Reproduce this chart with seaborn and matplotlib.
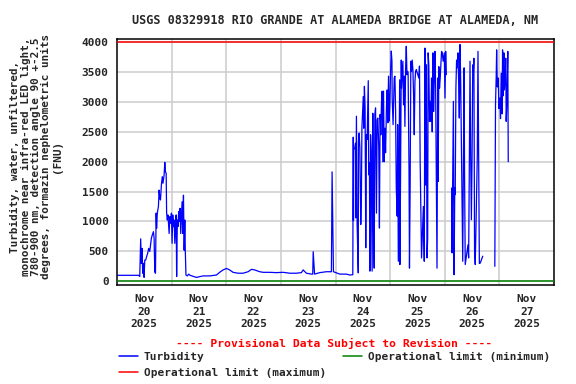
import numpy as np
import pandas as pd
import matplotlib
matplotlib.use("Agg")
import matplotlib.pyplot as plt
import seaborn as sns
from matplotlib.lines import Line2D

# ---------------- data (hours since 2025-11-20 00:00, turbidity FNU) ----------------
seg1_hours = [0.0, 9.5, 10.0, 10.4, 10.7, 11.0, 11.3, 11.6, 11.9, 12.2, 12.6, 13.1, 13.5, 13.9,
              14.4, 14.8, 15.1, 15.5, 16.0, 16.3, 16.6, 16.9, 17.2, 17.4, 17.7, 18.2, 18.5, 18.8,
              19.1, 19.5, 19.9, 20.2, 20.7, 21.0, 21.3, 21.6, 21.8, 22.1, 22.4, 22.9, 23.2, 23.6,
              23.9, 24.2, 24.5, 24.8, 25.1, 25.4, 25.7, 26.0, 26.2, 26.5, 26.8, 27.1, 27.4, 27.7,
              28.0, 28.3, 28.6, 28.9, 29.2, 29.5, 29.8, 30.0, 30.3, 30.9, 31.5, 32.1, 34.9, 37.8,
              40.8, 43.7, 45.1, 46.6, 48.1, 49.5, 51.0, 53.2, 55.4, 57.6, 59.1, 60.5, 62.7, 64.2,
              67.1, 70.0, 73.0, 75.9, 78.8, 81.0, 81.8, 83.2, 85.4, 86.0, 86.2, 86.5, 86.8, 89.1,
              92.0, 94.2, 94.5, 94.8, 95.1, 97.9, 100.8, 102.3, 103.6, 103.8, 103.9, 104.0, 104.5,
              104.8, 104.9, 105.2, 105.5, 106.0, 106.1, 106.4, 106.7, 107.1, 107.4, 107.6, 108.2,
              108.4, 108.7, 109.0, 109.3, 109.6, 109.9, 110.4, 110.6, 110.9, 111.1, 111.4, 111.7,
              112.1, 112.4, 112.7, 113.0, 113.3, 113.6, 114.0, 114.3, 114.6, 115.0, 115.3, 115.6,
              115.9, 116.2, 116.5, 116.8, 117.1, 117.4, 117.7, 118.0, 118.4, 118.7, 119.0, 119.3,
              119.6, 119.9, 120.2, 120.5, 120.8, 120.9, 121.3, 121.8, 122.1, 122.4, 122.7, 123.1,
              123.3, 123.6, 123.9, 124.2, 124.3, 124.6, 124.9, 125.0, 125.3, 125.6, 125.9, 126.2,
              126.5, 126.8, 127.1, 127.4, 127.7, 127.9, 128.3, 128.5, 128.8, 129.1, 129.4, 129.7,
              130.0, 130.3, 130.6, 130.9, 131.2, 131.5, 132.6, 132.9, 133.2, 133.8, 134.6, 135.0,
              135.3, 135.6, 135.9, 136.2, 136.5, 136.7, 137.0, 137.3, 137.6, 137.9, 138.2, 138.5,
              138.8, 139.1, 139.4, 139.7, 140.0, 140.3, 140.6, 140.9, 141.1, 141.4, 141.7, 142.0,
              142.6, 142.9, 143.3, 143.8, 144.1, 144.4, 144.7]
seg1_fnu = [100, 100, 80, 710, 300, 550, 135, 300, 65, 355, 355, 425, 470, 550,
            500, 635, 720, 775, 830, 720, 160, 135, 1140, 885, 1140, 1250, 1525, 1390,
            1360, 1610, 1750, 1640, 1780, 1990, 1830, 1805, 1140, 1025, 1110, 800, 1080, 970,
            1140, 635, 1110, 915, 1025, 635, 970, 1110, 80, 1025, 915, 1165, 1000, 1220,
            800, 1080, 1330, 800, 1440, 520, 1025, 520, 105, 90, 120, 100, 65, 90,
            90, 105, 150, 190, 215, 190, 150, 135, 135, 160, 200, 190, 160, 150,
            150, 145, 150, 135, 135, 145, 190, 135, 120, 120, 495, 300, 120, 145,
            160, 160, 1830, 965, 160, 120, 120, 105, 110, 2410, 1015, 2200, 2230,
            2310, 1060, 2760, 950, 140, 2340, 2480, 2230, 950, 1480, 2560, 3090,
            2560, 3260, 2900, 560, 2450, 2370, 3355, 1780, 1980, 170, 2450, 2170,
            170, 2810, 920, 220, 2790, 2900, 1140, 2700, 2730, 2260, 890, 2790,
            2450, 2980, 3180, 2000, 3180, 2000, 2560, 2150, 2925, 3200, 2650, 3430,
            2680, 2980, 3510, 3850, 3680, 3065, 2620, 3400, 3430, 2870, 1560, 1090,
            2620, 335, 1950, 3370, 280, 1840, 3700, 3230, 3455, 3680, 2950, 3430,
            2590, 3570, 3930, 3455, 3510, 3480, 1870, 220, 1620, 3680, 3510, 3700,
            3540, 3120, 2450, 3340, 3510, 3540, 3400, 3600, 2000, 390, 1250, 335,
            3900, 1610, 3620, 390, 720, 3820, 3620, 2675, 3010, 2675, 3400, 2500,
            3820, 2840, 3400, 3845, 3230, 1780, 220, 3400, 1670, 3590, 3230, 3400,
            3845, 3820, 3680, 3820, 3065, 3845, 3455]

seg2_hours = [147.0, 147.2, 147.8, 148.1, 148.4, 148.6, 148.9, 149.2, 149.5, 149.8, 150.1,
              150.4, 150.7, 151.0, 151.9, 152.2, 152.5, 152.7, 153.0, 154.2, 154.5, 154.8,
              155.1, 155.4, 155.7, 156.0, 156.3, 156.6, 156.8, 157.1, 157.4, 158.3, 158.6,
              158.9, 159.2, 159.5, 159.9, 160.4, 160.7]
seg2_fnu = [1560, 475, 3010, 110, 1560, 1450, 3230, 3700, 3570, 3820, 3345,
            2730, 3960, 3345, 335, 1980, 3570, 1810, 280, 610, 390, 1950,
            3680, 2065, 1030, 2065, 3620, 3510, 3730, 500, 280, 2090, 3845,
            2065, 300, 300, 335, 390, 420]

seg3_hours = [166.0, 166.1, 166.3, 166.6, 166.8, 167.1, 167.5, 167.8, 168.2, 168.5, 168.8,
              169.2, 169.4, 169.6, 169.8, 170.0, 170.2, 170.5, 170.8, 171.0, 171.3, 171.7, 171.9]
seg3_fnu = [250, 1140, 2950, 3420, 3870, 3250, 3400, 2890, 3065, 2720, 3480,
            2800, 3870, 3100, 3600, 3820, 3200, 3400, 3730, 2675, 3000, 3845, 2000]

op_min = 0
op_max = 4000

day_labels = ["Nov\n20\n2025", "Nov\n21\n2025", "Nov\n22\n2025", "Nov\n23\n2025",
              "Nov\n24\n2025", "Nov\n25\n2025", "Nov\n26\n2025", "Nov\n27\n2025"]
y_ticks = [0, 500, 1000, 1500, 2000, 2500, 3000, 3500, 4000]

title = "USGS 08329918 RIO GRANDE AT ALAMEDA BRIDGE AT ALAMEDA, NM"
ylabel = ("Turbidity, water, unfiltered,\nmonochrome near infra-red LED light,\n"
          "780-900 nm, detection angle 90 +-2.5\ndegrees, formazin nephelometric units\n(FNU)")

# ---------------- build frame ----------------
start = pd.Timestamp("2025-11-20")
frames = []
for i, (h, v) in enumerate([(seg1_hours, seg1_fnu), (seg2_hours, seg2_fnu), (seg3_hours, seg3_fnu)]):
    frames.append(pd.DataFrame({"hours": h, "fnu": v, "segment": i}))
df = pd.concat(frames, ignore_index=True)
df["time"] = start + pd.to_timedelta(df["hours"], unit="h")

# ---------------- plot ----------------
sns.set_style("white")
plt.rcParams["font.family"] = ["DejaVu Sans Mono"]
plt.rcParams["font.weight"] = "bold"

fig = plt.figure(figsize=(5.76, 3.84), dpi=100)
ax = fig.add_axes([117 / 576, 1 - 284.7 / 384, 437 / 576, (284.7 - 39) / 384])

sns.lineplot(data=df, x="time", y="fnu", units="segment", estimator=None,
             color="#0000ff", lw=0.9, ax=ax, legend=False)
ax.axhline(op_min, color="#008000", lw=1.1, zorder=3)
ax.axhline(op_max, color="#ff0000", lw=1.1, zorder=3)

ax.set_xlim(start, start + pd.Timedelta(days=8))
ax.set_ylim(-57, 4052)
ax.set_yticks(y_ticks)
ax.set_yticklabels([str(t) for t in y_ticks], fontsize=8, fontweight="bold")

noon_ticks = [start + pd.Timedelta(hours=12 + 24 * i) for i in range(8)]
midnight_ticks = [start + pd.Timedelta(days=i) for i in range(1, 8)]
ax.set_xticks(noon_ticks)
ax.set_xticklabels(day_labels, fontsize=8, fontweight="bold", linespacing=1.3)
ax.set_xticks(midnight_ticks, minor=True)

ax.grid(False)
ax.grid(which="major", axis="y", color="#cccccc", lw=1.1, zorder=0)
ax.grid(which="minor", axis="x", color="#cccccc", lw=1.1, zorder=0)
ax.set_axisbelow(True)
ax.tick_params(axis="both", which="both", length=0)
ax.tick_params(axis="y", pad=6)
ax.tick_params(axis="x", pad=7)
ax.set_xlabel("")
ax.set_ylabel("")
for s in ax.spines.values():
    s.set_color("black")
    s.set_linewidth(1.1)

fig.text(0.581, 0.947, title, ha="center", va="center", fontsize=8.5, fontweight="bold")
fig.text(36 / 576, 0.592, ylabel, ha="center", va="center", rotation=90,
         fontsize=7.9, fontweight="bold", multialignment="center", linespacing=1.05)
fig.text(0.58, 0.106, "---- Provisional Data Subject to Revision ----", ha="center", va="center",
         color="#ff0000", fontsize=8.2, fontweight="bold")

handles = [Line2D([], [], color="#0000ff", lw=1.1),
           Line2D([], [], color="#ff0000", lw=1.1),
           Line2D([], [], color="#008000", lw=1.1)]
labels = ["Turbidity", "Operational limit (maximum)", "Operational limit (minimum)"]
fig.legend(handles, labels, ncol=2, loc="upper left", bbox_to_anchor=(119 / 576, 1 - 352 / 384),
           frameon=False, handlelength=1.7, handletextpad=0.55,
           columnspacing=1.5, labelspacing=0.55, borderpad=0, borderaxespad=0,
           prop={"weight": "bold", "size": 8})

fig.savefig("out.png", dpi=100)
